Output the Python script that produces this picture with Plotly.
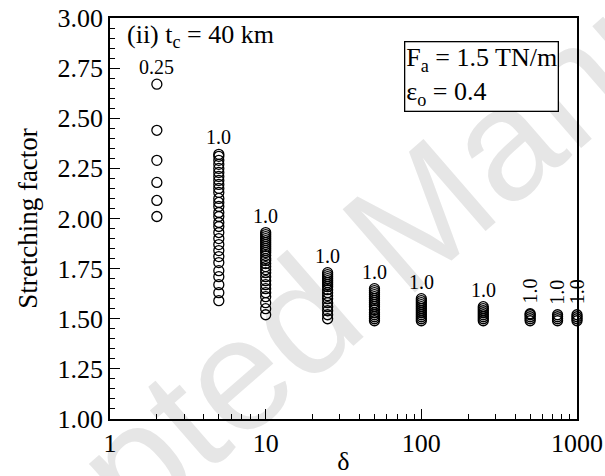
import plotly.graph_objects as go
import math

delta = [2, 5, 10, 25, 50, 100, 250, 500, 750, 1000]
sf = [
    [2.67, 2.44, 2.29, 2.18, 2.09, 2.01],
    [1.59, 1.63, 1.67, 1.71, 1.74, 1.78, 1.81, 1.84, 1.87, 1.90, 1.93, 1.96, 1.98, 2.01, 2.03,
     2.06, 2.08, 2.10, 2.13, 2.15, 2.17, 2.19, 2.21, 2.23, 2.25, 2.27, 2.29, 2.31, 2.32],
    [1.52, 1.55, 1.58, 1.61, 1.63, 1.65, 1.67, 1.69, 1.71, 1.73, 1.745, 1.76, 1.775, 1.79, 1.80,
     1.815, 1.83, 1.84, 1.85, 1.86, 1.87, 1.88, 1.89, 1.90, 1.91, 1.92, 1.93],
    [1.50, 1.52, 1.54, 1.56, 1.58, 1.60, 1.615, 1.63, 1.645, 1.66, 1.67, 1.68, 1.69, 1.70, 1.71,
     1.72, 1.73],
    [1.49, 1.50, 1.51, 1.52, 1.53, 1.545, 1.56, 1.57, 1.58, 1.59, 1.60, 1.61, 1.62, 1.63, 1.64, 1.65],
    [1.49, 1.50, 1.51, 1.52, 1.53, 1.54, 1.55, 1.56, 1.57, 1.58, 1.59, 1.60],
    [1.49, 1.50, 1.51, 1.52, 1.53, 1.54, 1.55, 1.56],
    [1.49, 1.50, 1.51, 1.52, 1.525],
    [1.49, 1.50, 1.51, 1.52],
    [1.49, 1.50, 1.51, 1.52],
]
col_labels = ["0.25", "1.0", "1.0", "1.0", "1.0", "1.0", "1.0", "1.0", "1.0", "1.0"]
label_vertical = [False, False, False, False, False, False, False, True, True, True]
y_ticks = [1, 1.25, 1.5, 1.75, 2, 2.25, 2.5, 2.75, 3]
y_ticktext = ["1.00", "1.25", "1.50", "1.75", "2.00", "2.25", "2.50", "2.75", "3.00"]
x_ticks = [1, 10, 100, 1000]
x_ticktext = ["1", "10", "100", "1000"]
x_minor = [2, 3, 4, 5, 6, 7, 8, 9, 20, 30, 40, 50, 60, 70, 80, 90, 200, 300, 400, 500, 600, 700, 800, 900]

xs, ys = [], []
for d, vals in zip(delta, sf):
    for v in vals:
        xs.append(d)
        ys.append(v)

FONT = "Liberation Serif, Times New Roman, Times, serif"

fig = go.Figure()
fig.add_trace(go.Scatter(
    x=xs, y=ys, mode="markers", cliponaxis=False,
    marker=dict(symbol="circle-open", size=10, color="black", line=dict(width=1.3, color="black")),
    showlegend=False,
))

# faint watermark drawn beneath the data
fig.add_shape(type="rect", xref="paper", yref="paper", x0=0.58, x1=0.60, y0=0.475, y1=0.495,
              line=dict(width=0), fillcolor="rgba(0,0,0,0)", layer="below",
              label=dict(text="Accepted Manuscript", textangle=-41, textposition="middle center",
                         font=dict(family="Liberation Sans, Arial, sans-serif", size=160,
                                   color="rgb(230,230,230)")))

ann = []
for d, vals, lab, vert in zip(delta, sf, col_labels, label_vertical):
    if vert:
        ann.append(dict(x=math.log10(d), y=max(vals), xref="x", yref="y", text=lab, showarrow=False,
                        textangle=-90, yanchor="bottom", xanchor="center", yshift=8,
                        font=dict(family=FONT, size=20, color="black")))
    else:
        ann.append(dict(x=math.log10(d), y=max(vals), xref="x", yref="y", text=lab, showarrow=False,
                        yanchor="bottom", xanchor="center", yshift=4,
                        font=dict(family=FONT, size=20, color="black")))

ann.append(dict(x=0.032, y=1.0, xref="paper", yref="paper", xanchor="left", yanchor="top",
                text="(ii) t<sub>c</sub> = 40 km", showarrow=False,
                font=dict(family=FONT, size=26, color="black")))
ann.append(dict(x=0.961, y=0.943, xref="paper", yref="paper", xanchor="right", yanchor="top",
                text="F<sub>a</sub> = 1.5 TN/m<br>ε<sub>o</sub> = 0.4", align="left", showarrow=False,
                bordercolor="black", borderwidth=1.3, borderpad=1, bgcolor="white",
                font=dict(family=FONT, size=26, color="black")))

fig.update_layout(
    width=605, height=476,
    margin=dict(l=110, r=28, t=18, b=57, autoexpand=False),
    paper_bgcolor="white", plot_bgcolor="rgba(0,0,0,0)",
    font=dict(family=FONT, size=26, color="black"),
    annotations=ann,
    xaxis=dict(type="log", range=[0, 3], tickvals=x_ticks, ticktext=x_ticktext,
               ticks="inside", ticklen=10, tickwidth=1.3, tickcolor="black", automargin=False,
               minor=dict(tickvals=x_minor, ticks="inside", ticklen=5, tickwidth=1.3, tickcolor="black"),
               showline=True, linecolor="black", linewidth=1.5, mirror=True, showgrid=False, zeroline=False,
               title=dict(text="δ", standoff=0, font=dict(family=FONT, size=26)),
               tickfont=dict(family=FONT, size=26)),
    yaxis=dict(range=[1, 3], tickvals=y_ticks, ticktext=y_ticktext,
               ticks="inside", ticklen=10, tickwidth=1.3, tickcolor="black", automargin=False,
               minor=dict(dtick=0.05, tick0=1, ticks="inside", ticklen=5, tickwidth=1.3, tickcolor="black"),
               showline=True, linecolor="black", linewidth=1.5, mirror=True, showgrid=False, zeroline=False,
               title=dict(text="Stretching factor", standoff=12, font=dict(family=FONT, size=27)),
               tickfont=dict(family=FONT, size=26)),
)

fig.write_html("out.html")
